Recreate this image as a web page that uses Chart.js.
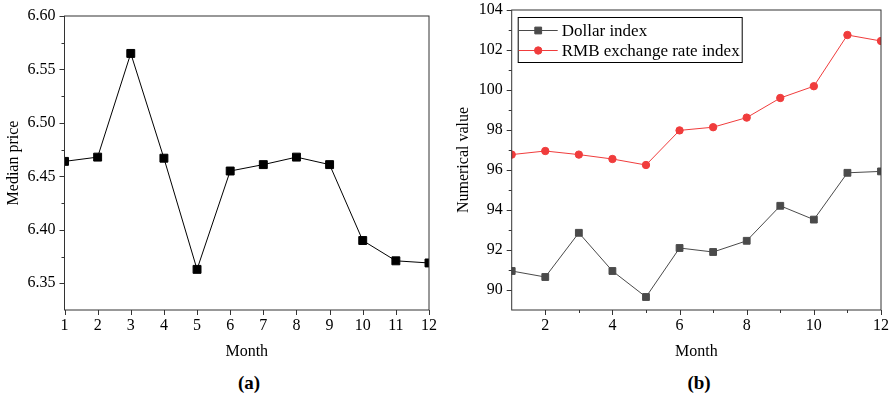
<!DOCTYPE html>
<html>
<head>
<meta charset="utf-8">
<script src="https://cdn.jsdelivr.net/npm/chart.js@4.4.1/dist/chart.umd.min.js"></script>
<style>
    html, body { margin: 0; padding: 0; background: #fff; }
    #wrap { position: relative; width: 893px; height: 397px; overflow: hidden; }
    canvas { position: absolute; top: 0; }
    #cA { left: 0; }
    #cB { left: 450px; }
    .cap { position: absolute; top: 372px; font: bold 19px "Liberation Serif", "Times New Roman", serif; color: #000; transform: translateX(-50%); }
</style>
</head>
<body>
<div id="wrap">
    <canvas id="cA" width="450" height="365"></canvas>
    <canvas id="cB" width="443" height="365"></canvas>
    <div class="cap" style="left:249px">(a)</div>
    <div class="cap" style="left:699px">(b)</div>
</div>
<script>
// 数据
const months = [1, 2, 3, 4, 5, 6, 7, 8, 9, 10, 11, 12];
const medianPrice = [6.464, 6.468, 6.565, 6.467, 6.363, 6.455, 6.461, 6.468, 6.461, 6.390, 6.371, 6.369];
const dollarIndex = [90.95, 90.65, 92.86, 90.95, 89.65, 92.10, 91.90, 92.46, 94.21, 93.52, 95.86, 95.93];
const rmbIndex = [96.77, 96.95, 96.77, 96.55, 96.25, 97.98, 98.14, 98.62, 99.60, 100.19, 102.75, 102.45];

// 刻度
const yTicksA = [6.35, 6.40, 6.45, 6.50, 6.55, 6.60];
const yMinorA = [6.375, 6.425, 6.475, 6.525, 6.575];
const yTicksB = [90, 92, 94, 96, 98, 100, 102, 104];
const yMinorB = [91, 93, 95, 97, 99, 101, 103];
const xTicksB = [2, 4, 6, 8, 10, 12];
const xMinorB = [3, 5, 7, 9, 11];

const serif = '"Liberation Serif", "Times New Roman", serif';
const axisColor = '#333';

// 边框 + 刻度线
const framePlugin = {
    id: 'frame',
    afterDraw(chart, args, opts) {
        const { ctx, chartArea: a, scales } = chart;
        ctx.save();
        ctx.strokeStyle = axisColor;
        ctx.lineWidth = 1;
        ctx.strokeRect(a.left, a.top, a.right - a.left, a.bottom - a.top);
        ctx.beginPath();
        const tickX = (vals, len) => vals.forEach(v => {
            const px = Math.round(scales.x.getPixelForValue(v)) + 0.5;
            ctx.moveTo(px, a.bottom); ctx.lineTo(px, a.bottom + len);
        });
        const tickY = (vals, len) => vals.forEach(v => {
            const py = Math.round(scales.y.getPixelForValue(v)) + 0.5;
            ctx.moveTo(a.left, py); ctx.lineTo(a.left - len, py);
        });
        tickX(opts.xMajor || [], 5);
        tickX(opts.xMinor || [], 3);
        tickY(opts.yMajor || [], 5);
        tickY(opts.yMinor || [], 3);
        ctx.stroke();
        ctx.restore();
    }
};

// 图内图例
const insideLegend = {
    id: 'insideLegend',
    afterDraw(chart, args, opts) {
        if (!opts.show) return;
        const { ctx, chartArea: a } = chart;
        ctx.save();
        const bx = a.left + 6, by = a.top + 7;
        ctx.strokeStyle = '#000';
        ctx.lineWidth = 1;
        ctx.strokeRect(bx + 0.5, by + 0.5, 224, 45);
        ctx.font = '17px ' + serif;
        ctx.textBaseline = 'middle';
        ctx.fillStyle = '#000';
        chart.data.datasets.forEach((ds, i) => {
            const cy = by + 13.5 + i * 20;
            ctx.strokeStyle = ds.borderColor;
            ctx.beginPath();
            ctx.moveTo(bx + 1, cy); ctx.lineTo(bx + 40, cy);
            ctx.stroke();
            ctx.fillStyle = ds.pointBackgroundColor;
            ctx.strokeStyle = ds.pointBorderColor;
            Chart.helpers.drawPoint(ctx, {
                pointStyle: ds.pointStyle, radius: ds.pointRadius, rotation: 0, borderWidth: 1
            }, bx + 20.5, cy);
            ctx.fillStyle = '#000';
            ctx.fillText(ds.label, bx + 44, cy + 1);
        });
        ctx.restore();
    }
};

function pts(ys) {
    return months.map((m, i) => ({ x: m, y: ys[i] }));
}

function axisTitle(text) {
    return { display: true, text: text, color: '#000', font: { family: serif, size: 16 }, padding: { top: 4, bottom: 4 } };
}

function baseOptions(cfg) {
    return {
        responsive: false,
        animation: false,
        layout: { padding: cfg.padding },
        plugins: {
            legend: { display: false },
            tooltip: { enabled: false },
            frame: cfg.frame,
            insideLegend: { show: !!cfg.legend }
        },
        scales: {
            x: {
                type: 'linear',
                min: 1, max: 12,
                grid: { display: false, drawTicks: false },
                border: { display: false },
                ticks: { color: '#000', font: { family: serif, size: 16 }, padding: 6, autoSkip: false, maxRotation: 0 },
                afterBuildTicks: s => { s.ticks = cfg.xTicks.map(v => ({ value: v })); },
                afterFit: s => { s.height = 55; s.paddingLeft = 0; s.paddingRight = 0; },
                title: axisTitle('Month')
            },
            y: {
                min: cfg.yMin, max: cfg.yMax,
                grid: { display: false, drawTicks: false },
                border: { display: false },
                ticks: { color: '#000', font: { family: serif, size: 16 }, padding: 9, callback: cfg.yFmt },
                afterBuildTicks: s => { s.ticks = cfg.yTicks.map(v => ({ value: v })); },
                afterFit: s => { s.width = cfg.yWidth; s.paddingTop = 0; s.paddingBottom = 0; },
                title: axisTitle(cfg.yTitle)
            }
        }
    };
}

new Chart(document.getElementById('cA'), {
    type: 'line',
    data: {
        datasets: [{
            label: 'Median price',
            data: pts(medianPrice),
            borderColor: '#000',
            borderWidth: 1,
            pointStyle: 'rect',
            pointRadius: 5.6,
            pointBackgroundColor: '#000',
            pointBorderColor: '#000',
            tension: 0
        }]
    },
    options: baseOptions({
        padding: { top: 16, right: 21, left: 0, bottom: 0 },
        yWidth: 64.5,
        yMin: 6.325, yMax: 6.60,
        yTicks: yTicksA,
        yFmt: v => v.toFixed(2),
        xTicks: months,
        yTitle: 'Median price',
        frame: { xMajor: months, yMajor: yTicksA, yMinor: yMinorA }
    }),
    plugins: [framePlugin, insideLegend]
});

new Chart(document.getElementById('cB'), {
    type: 'line',
    data: {
        datasets: [{
            label: 'Dollar index',
            data: pts(dollarIndex),
            borderColor: '#4a4a4a',
            borderWidth: 1,
            pointStyle: 'rect',
            pointRadius: 4.8,
            pointBackgroundColor: '#4a4a4a',
            pointBorderColor: '#4a4a4a',
            tension: 0
        }, {
            label: 'RMB exchange rate index',
            data: pts(rmbIndex),
            borderColor: '#f03c3c',
            borderWidth: 1,
            pointStyle: 'circle',
            pointRadius: 3.7,
            pointBackgroundColor: '#f03c3c',
            pointBorderColor: '#f03c3c',
            tension: 0
        }]
    },
    options: baseOptions({
        padding: { top: 10, right: 12, left: 0, bottom: 0 },
        yWidth: 61.7,
        yMin: 89, yMax: 104,
        yTicks: yTicksB,
        yFmt: v => String(v),
        xTicks: xTicksB,
        yTitle: 'Numerical value',
        legend: true,
        frame: { xMajor: xTicksB, xMinor: xMinorB, yMajor: yTicksB, yMinor: yMinorB }
    }),
    plugins: [framePlugin, insideLegend]
});
</script>
</body>
</html>
